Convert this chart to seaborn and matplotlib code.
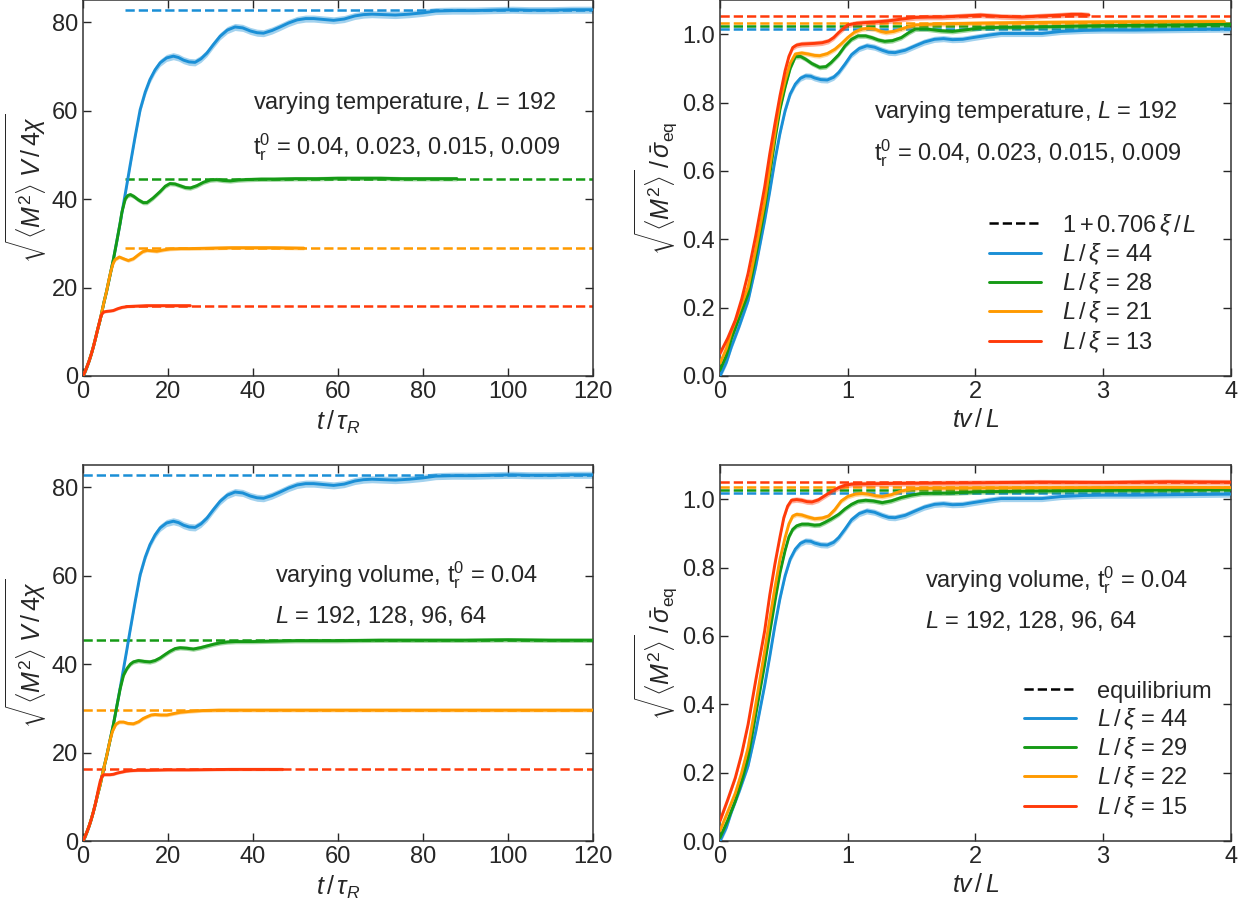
"""
Relaxation of sqrt(<M^2>) towards equilibrium: varying temperature (top)
and varying volume (bottom), raw (left) and rescaled (right).
"""
import pandas as pd
import matplotlib
matplotlib.use("Agg")
import matplotlib.pyplot as plt
import seaborn as sns
from matplotlib.lines import Line2D

# ------------------------------------------------------------------ data --- #
series_names = ["s44", "s28", "s21", "s13"]
colors = ["#1a8fd6", "#159a15", "#ff9a00", "#ff3a0a"]

# top left: t/tau_R vs sqrt(<M^2> V/4chi), varying temperature
tl_t_blue = [0, 0.5, 1, 1.5, 2, 2.5, 3, 3.5, 4.1, 5, 5.6, 6.4, 7.2, 8, 8.8, 9.6, 10.4, 11.1, 12.3, 13.5,
             14.7, 15.8, 17, 18.2, 19.7, 21.3, 22.5, 23.7, 25, 26.4, 27.8, 29.2, 30.7, 32.3, 34, 35.8,
             37.6, 39.4, 41, 42.5, 44.5, 46.4, 48.4, 50.4, 52.4, 54.3, 56.6, 59, 61.5, 64, 66, 68,
             70.7, 73.5, 76.8, 80, 83, 87, 92, 96, 101, 105, 110, 115, 120]
tl_m_blue = [0, 0.9, 2.1, 3.4, 4.9, 6.6, 8.5, 10.5, 12.7, 16.7, 19.1, 22.7, 26.3, 30.4, 34.6, 39.0, 43.4,
             47.4, 54, 60.2, 64.2, 67, 69.2, 70.8, 71.9, 72.3, 72.0, 71.4, 71.0, 70.9, 71.7, 73, 74.9,
             76.8, 78.2, 78.9, 78.7, 78.0, 77.6, 77.5, 78.1, 78.9, 79.8, 80.5, 80.8, 80.8, 80.6, 80.4,
             80.7, 81.4, 81.7, 81.8, 81.7, 81.6, 81.8, 82.1, 82.5, 82.6, 82.6, 82.7, 82.8, 82.7, 82.7,
             82.8, 82.8]
tl_t_green = [0, 0.5, 1, 1.5, 2, 2.5, 3, 3.5, 4.1, 5, 5.6, 6.4, 7.2, 8, 8.8, 9.2, 10, 10.6, 11.2, 12,
              13.1, 14.2, 15.1, 16.5, 18.2, 19.4, 20.5, 21.7, 22.9, 24.1, 25.3, 26.8, 28.4, 30, 31.5,
              33, 34.7, 36.6, 38.6, 42, 45, 50, 55, 60, 65, 70, 75, 80, 88]
tl_m_green = [0, 0.9, 2.1, 3.4, 4.9, 6.6, 8.5, 10.5, 12.7, 16.7, 19.1, 22.7, 26.3, 30.4, 34.6, 37, 40,
              40.8, 41.0, 40.6, 39.8, 39.2, 39.2, 40.2, 41.7, 42.9, 43.5, 43.4, 43.0, 42.6, 42.5, 43.0,
              43.8, 44.3, 44.4, 44.2, 44.1, 44.3, 44.4, 44.5, 44.5, 44.6, 44.6, 44.7, 44.7, 44.7, 44.6,
              44.6, 44.6]
tl_t_orange = [0, 0.5, 1, 1.5, 2, 2.5, 3, 3.5, 4.1, 5, 5.6, 6.1, 6.6, 7.1, 7.6, 8.6, 9.6, 10.7, 11.9,
               13.1, 14.1, 15.1, 16.3, 17.4, 19, 20.5, 23, 25, 30, 35, 40, 45, 52]
tl_m_orange = [0, 0.9, 2.1, 3.4, 4.9, 6.6, 8.5, 10.5, 12.7, 16.7, 19.1, 21.5, 23.6, 25.3, 26.3, 26.9,
               26.5, 26.1, 26.5, 27.4, 28.1, 28.4, 28.3, 28.2, 28.5, 28.7, 28.8, 28.8, 28.9, 29.0, 29.0,
               29.0, 28.9]
tl_t_red = [0, 0.5, 1, 1.5, 2, 2.5, 3, 3.7, 4.1, 4.5, 5.0, 5.6, 6.5, 7.2, 8.2, 9.2, 10.5, 12.7, 15, 18,
            21, 25.3]
tl_m_red = [0, 0.9, 2.1, 3.4, 4.9, 6.6, 8.5, 11.3, 12.9, 14.0, 14.5, 14.6, 14.7, 14.8, 15.2, 15.5, 15.7,
            15.8, 15.9, 15.9, 15.9, 15.9]
tl_levels = [82.8, 44.5, 28.85, 15.9]

# bottom left: varying volume (blue run is the same L=192 run as above)
bl_t_green = [0, 0.5, 1, 1.5, 2, 2.5, 3, 3.5, 4.1, 5, 5.6, 6.4, 7.2, 8, 8.8, 9.6, 10.4, 11.2, 11.9,
              13.1, 14.5, 15.8, 17, 18.2, 19.4, 20.5, 21.7, 22.9, 24.4, 26, 27.6, 29.2, 30.8, 32.3, 34,
              36, 40, 45, 50, 60, 70, 80, 90, 100, 110, 120]
bl_m_green = [0, 0.9, 2.1, 3.4, 4.9, 6.6, 8.5, 10.5, 12.7, 16.7, 19.1, 22.7, 26.3, 30.4, 34.4, 37.5,
              39.0, 40.0, 40.5, 40.8, 40.6, 40.5, 40.8, 41.4, 42.2, 42.9, 43.5, 43.7, 43.6, 43.4, 43.7,
              44.1, 44.5, 44.8, 45.0, 45.1, 45.1, 45.2, 45.3, 45.3, 45.4, 45.4, 45.4, 45.5, 45.4, 45.4]
bl_t_orange = [0, 0.5, 1, 1.5, 2, 2.5, 3, 3.5, 4.1, 5, 5.6, 6.3, 7.0, 7.8, 8.6, 9.6, 10.6, 11.9, 13.2,
               14.2, 15.1, 16.1, 17, 18.4, 19.8, 21.3, 22.9, 25, 28, 32, 40, 60, 80, 100, 120]
bl_m_orange = [0, 0.9, 2.1, 3.4, 4.9, 6.6, 8.5, 10.5, 12.7, 16.7, 19.1, 22.3, 24.8, 26.4, 26.9, 26.9,
               26.6, 26.5, 27.0, 27.7, 28.1, 28.5, 28.6, 28.5, 28.5, 28.8, 29.1, 29.3, 29.5, 29.6, 29.6,
               29.6, 29.6, 29.6, 29.6]
bl_t_red = [0, 0.5, 1, 1.5, 2, 2.5, 3, 3.7, 4.1, 4.5, 5.0, 5.6, 6.4, 7.2, 8.2, 9.2, 10.2, 11.1, 13, 15,
            20, 25, 35, 47]
bl_m_red = [0, 0.9, 2.1, 3.4, 4.9, 6.6, 8.5, 11.8, 13.5, 14.6, 15.0, 15.0, 15.0, 15.1, 15.4, 15.6, 15.8,
            15.9, 16.0, 16.0, 16.1, 16.1, 16.2, 16.2]
bl_levels = [82.8, 45.4, 29.6, 16.2]

# top right: tv/L vs sqrt(<M^2>)/sigma_eq, varying temperature
tr_x_blue = [0, 0.05, 0.09, 0.15, 0.22, 0.28, 0.35, 0.39, 0.43, 0.47, 0.51, 0.55, 0.59, 0.63, 0.67,
             0.71, 0.74, 0.79, 0.84, 0.89, 0.93, 0.98, 1.03, 1.09, 1.15, 1.21, 1.27, 1.32, 1.37, 1.45,
             1.53, 1.6, 1.68, 1.75, 1.82, 1.9, 1.98, 2.1, 2.2, 2.35, 2.52, 2.67, 2.85, 3.0, 3.25, 3.5,
             3.75, 4.0]
tr_y_blue = [0, 0.04, 0.086, 0.145, 0.22, 0.32, 0.455, 0.54, 0.63, 0.71, 0.776, 0.825, 0.854, 0.871,
             0.878, 0.877, 0.872, 0.867, 0.866, 0.874, 0.888, 0.913, 0.94, 0.958, 0.966, 0.962, 0.953,
             0.947, 0.946, 0.953, 0.966, 0.977, 0.985, 0.987, 0.984, 0.985, 0.99, 0.997, 1.002, 1.002,
             1.002, 1.008, 1.011, 1.012, 1.012, 1.013, 1.014, 1.015]
tr_x_green = [0, 0.05, 0.09, 0.15, 0.22, 0.28, 0.35, 0.39, 0.43, 0.47, 0.51, 0.55, 0.59, 0.63, 0.67,
              0.72, 0.78, 0.83, 0.87, 0.93, 0.98, 1.03, 1.08, 1.14, 1.19, 1.24, 1.29, 1.35, 1.42, 1.48,
              1.53, 1.62, 1.73, 1.82, 1.93, 2.04, 2.2, 2.36, 2.6, 3.0, 3.3, 3.6, 4.0]
tr_y_green = [0.017, 0.06, 0.11, 0.17, 0.24, 0.35, 0.49, 0.59, 0.69, 0.78, 0.845, 0.9, 0.934, 0.935,
              0.927, 0.914, 0.903, 0.905, 0.917, 0.94, 0.966, 0.985, 0.995, 0.995, 0.99, 0.983, 0.979,
              0.981, 0.99, 1.005, 1.015, 1.015, 1.01, 1.008, 1.013, 1.018, 1.02, 1.02, 1.022, 1.025,
              1.026, 1.027, 1.029]
tr_x_orange = [0, 0.05, 0.09, 0.15, 0.22, 0.28, 0.35, 0.39, 0.43, 0.47, 0.51, 0.55, 0.59, 0.64, 0.69,
               0.74, 0.78, 0.84, 0.9, 0.95, 1.0, 1.05, 1.11, 1.16, 1.21, 1.26, 1.3, 1.36, 1.42, 1.48,
               1.53, 1.7, 2.0, 2.36, 2.7, 3.0, 3.5, 3.95]
tr_y_orange = [0.037, 0.08, 0.13, 0.19, 0.26, 0.37, 0.51, 0.61, 0.71, 0.8, 0.864, 0.915, 0.942, 0.945,
               0.942, 0.938, 0.937, 0.943, 0.956, 0.972, 0.99, 1.005, 1.015, 1.017, 1.015, 1.008, 1.005,
               1.008, 1.015, 1.022, 1.027, 1.03, 1.032, 1.034, 1.035, 1.036, 1.037, 1.037]
tr_x_red = [0, 0.06, 0.12, 0.17, 0.22, 0.28, 0.35, 0.39, 0.43, 0.47, 0.51, 0.54, 0.57, 0.6, 0.64, 0.69,
            0.74, 0.8, 0.85, 0.89, 0.93, 0.97, 1.0, 1.07, 1.14, 1.23, 1.32, 1.42, 1.53, 1.63, 1.73,
            1.88, 2.04, 2.2, 2.36, 2.5, 2.67, 2.75, 2.83, 2.89]
tr_y_red = [0.066, 0.11, 0.163, 0.225, 0.3, 0.41, 0.553, 0.65, 0.737, 0.82, 0.893, 0.935, 0.961, 0.968,
            0.971, 0.972, 0.973, 0.975, 0.98, 0.99, 1.005, 1.018, 1.027, 1.032, 1.034, 1.036, 1.039,
            1.044, 1.049, 1.05, 1.05, 1.053, 1.056, 1.052, 1.05, 1.053, 1.056, 1.058, 1.058, 1.056]
tr_levels = [1.016, 1.025, 1.034, 1.054]

# bottom right: varying volume
br_x_green = [0, 0.06, 0.12, 0.17, 0.22, 0.28, 0.35, 0.39, 0.43, 0.47, 0.51, 0.54, 0.57, 0.6, 0.64,
              0.69, 0.74, 0.78, 0.82, 0.87, 0.93, 0.98, 1.03, 1.08, 1.14, 1.2, 1.27, 1.34, 1.42, 1.5,
              1.58, 1.8, 2.04, 2.5, 3.0, 3.5, 4.0]
br_y_green = [0.01, 0.06, 0.117, 0.175, 0.244, 0.37, 0.517, 0.61, 0.7, 0.785, 0.85, 0.89, 0.912, 0.922,
              0.927, 0.927, 0.924, 0.925, 0.932, 0.942, 0.956, 0.972, 0.985, 0.994, 0.997, 0.995, 0.99,
              0.995, 1.005, 1.012, 1.017, 1.018, 1.022, 1.024, 1.026, 1.027, 1.029]
br_x_orange = [0, 0.06, 0.12, 0.17, 0.22, 0.28, 0.35, 0.39, 0.43, 0.47, 0.51, 0.54, 0.57, 0.6, 0.64,
               0.69, 0.74, 0.8, 0.85, 0.9, 0.95, 1.0, 1.06, 1.11, 1.16, 1.22, 1.27, 1.34, 1.42, 1.5,
               1.58, 2.0, 2.5, 3.0, 3.5, 4.0]
br_y_orange = [0.03, 0.085, 0.14, 0.2, 0.273, 0.4, 0.556, 0.65, 0.741, 0.825, 0.888, 0.928, 0.951, 0.956,
               0.954, 0.948, 0.943, 0.945, 0.951, 0.97, 0.995, 1.008, 1.015, 1.017, 1.015, 1.01, 1.008,
               1.013, 1.024, 1.03, 1.032, 1.033, 1.034, 1.034, 1.035, 1.034]
br_x_red = [0, 0.06, 0.12, 0.17, 0.22, 0.28, 0.35, 0.39, 0.43, 0.47, 0.5, 0.53, 0.56, 0.6, 0.64, 0.68,
            0.72, 0.77, 0.82, 0.87, 0.93, 0.98, 1.03, 1.15, 1.3, 1.6, 2.0, 2.5, 3.0, 3.5, 4.0]
br_y_red = [0.059, 0.12, 0.185, 0.255, 0.341, 0.47, 0.615, 0.72, 0.81, 0.89, 0.946, 0.98, 0.997, 0.999,
            0.997, 0.993, 0.992, 0.998, 1.01, 1.022, 1.034, 1.041, 1.044, 1.045, 1.046, 1.047, 1.048,
            1.05, 1.049, 1.051, 1.05]
br_levels = [1.017, 1.026, 1.035, 1.051]

# statistical error (half width of the shaded band)
err_left = [0.8, 0.5, 0.4, 0.3]
err_right = [0.009, 0.007, 0.007, 0.008]

tr_legend = [r"$1 + 0.706\,\xi\,/\,L$", r"$L\,/\,\xi$ = 44", r"$L\,/\,\xi$ = 28",
             r"$L\,/\,\xi$ = 21", r"$L\,/\,\xi$ = 13"]
br_legend = ["equilibrium", r"$L\,/\,\xi$ = 44", r"$L\,/\,\xi$ = 29",
             r"$L\,/\,\xi$ = 22", r"$L\,/\,\xi$ = 15"]

# ----------------------------------------------------------------- style --- #
sns.set_theme(style="ticks")
plt.rcParams["font.family"] = ["Liberation Sans", "DejaVu Sans"]
plt.rcParams.update({
    "mathtext.fontset": "custom",
    "mathtext.rm": "Liberation Sans",
    "mathtext.it": "Liberation Sans:italic",
    "mathtext.bf": "Liberation Sans:bold",
    "xtick.direction": "in",
    "ytick.direction": "in",
    "xtick.top": True,
    "ytick.right": True,
    "xtick.major.size": 6,
    "ytick.major.size": 6,
    "axes.edgecolor": "#333333",
    "axes.linewidth": 1.1,
})


def make_frame(xs, ys):
    frames = [pd.DataFrame({"x": x, "y": y, "series": name})
              for name, x, y in zip(series_names, xs, ys)]
    return pd.concat(frames, ignore_index=True)


def draw_panel(ax, xs, ys, levels, x0, x1, errs):
    # equilibrium levels underneath
    for lev, c in zip(levels, colors):
        ax.plot([x0, x1], [lev, lev], ls="--", color=c, lw=1.8, zorder=1)
    df = make_frame(xs, ys)
    for name, c, e in zip(series_names, colors, errs):
        d = df[df.series == name]
        ax.fill_between(d.x, d.y - e, d.y + e, color=c, alpha=0.4, lw=0, zorder=2)
    sns.lineplot(data=df, x="x", y="y", hue="series", palette=dict(zip(series_names, colors)),
                 estimator=None, sort=False, legend=False, linewidth=2.1, ax=ax, zorder=3)
    ax.tick_params(labelsize=17, width=1.0)


fig = plt.figure(figsize=(12.48, 9.11), dpi=100)
ax_tl = fig.add_axes([0.0663, 0.5873, 0.4089, 0.4127])
ax_tr = fig.add_axes([0.5769, 0.5873, 0.4093, 0.4127])
ax_bl = fig.add_axes([0.0663, 0.0768, 0.4089, 0.4127])
ax_br = fig.add_axes([0.5769, 0.0768, 0.4093, 0.4127])

draw_panel(ax_tl, [tl_t_blue, tl_t_green, tl_t_orange, tl_t_red],
           [tl_m_blue, tl_m_green, tl_m_orange, tl_m_red], tl_levels, 10, 120, err_left)
draw_panel(ax_bl, [tl_t_blue, bl_t_green, bl_t_orange, bl_t_red],
           [tl_m_blue, bl_m_green, bl_m_orange, bl_m_red], bl_levels, 0, 120, err_left)
draw_panel(ax_tr, [tr_x_blue, tr_x_green, tr_x_orange, tr_x_red],
           [tr_y_blue, tr_y_green, tr_y_orange, tr_y_red], tr_levels, 0, 4, err_right)
draw_panel(ax_br, [tr_x_blue, br_x_green, br_x_orange, br_x_red],
           [tr_y_blue, br_y_green, br_y_orange, br_y_red], br_levels, 0, 4, err_right)

for ax in (ax_tl, ax_bl):
    ax.set_xlim(0, 120)
    ax.set_ylim(0, 85)
    ax.set_xticks(range(0, 121, 20))
    ax.set_yticks(range(0, 81, 20))
    ax.set_xlabel(r"$t\,/\,\tau_R$", fontsize=18)
    ax.set_ylabel(r"$\sqrt{\langle M^2\rangle\;V\,/\,4\chi}$", fontsize=18, labelpad=2)

for ax in (ax_tr, ax_br):
    ax.set_xlim(0, 4)
    ax.set_ylim(0, 1.1)
    ax.set_xticks(range(0, 5))
    ax.set_yticks([0.0, 0.2, 0.4, 0.6, 0.8, 1.0])
    ax.set_yticklabels(["0.0", "0.2", "0.4", "0.6", "0.8", "1.0"])
    ax.set_xlabel(r"$tv\,/\,L$", fontsize=18)
    ax.set_ylabel(r"$\sqrt{\langle M^2\rangle}\,/\,\bar{\sigma}_{\rm eq}$", fontsize=18, labelpad=2)

# annotations
txt = dict(fontsize=17, transform=fig.transFigure, va="center", ha="left")
fig.text(253 / 1248, 1 - 103 / 911, r"varying temperature, $L$ = 192", **txt)
fig.text(253 / 1248, 1 - 147 / 911, r"$\mathrm{t}_\mathrm{r}^0$ = 0.04, 0.023, 0.015, 0.009", **txt)
fig.text(874 / 1248, 1 - 112 / 911, r"varying temperature, $L$ = 192", **txt)
fig.text(874 / 1248, 1 - 153 / 911, r"$\mathrm{t}_\mathrm{r}^0$ = 0.04, 0.023, 0.015, 0.009", **txt)
fig.text(275 / 1248, 1 - 575 / 911, r"varying volume, $\mathrm{t}_\mathrm{r}^0$ = 0.04", **txt)
fig.text(275 / 1248, 1 - 616 / 911, r"$L$ = 192, 128, 96, 64", **txt)
fig.text(925 / 1248, 1 - 580 / 911, r"varying volume, $\mathrm{t}_\mathrm{r}^0$ = 0.04", **txt)
fig.text(925 / 1248, 1 - 621 / 911, r"$L$ = 192, 128, 96, 64", **txt)

# legends
for ax, labels, anchor in ((ax_tr, tr_legend, (0.975, 0.0)), (ax_br, br_legend, (1.005, 0.0))):
    handles = [Line2D([], [], color="black", ls="--", lw=1.8)]
    handles += [Line2D([], [], color=c, lw=2.1) for c in colors]
    ax.legend(handles, labels, loc="lower right", bbox_to_anchor=anchor, frameon=False,
              fontsize=17, handlelength=2.2, handletextpad=0.9, labelspacing=0.15)

fig.savefig("out.png", dpi=100)
